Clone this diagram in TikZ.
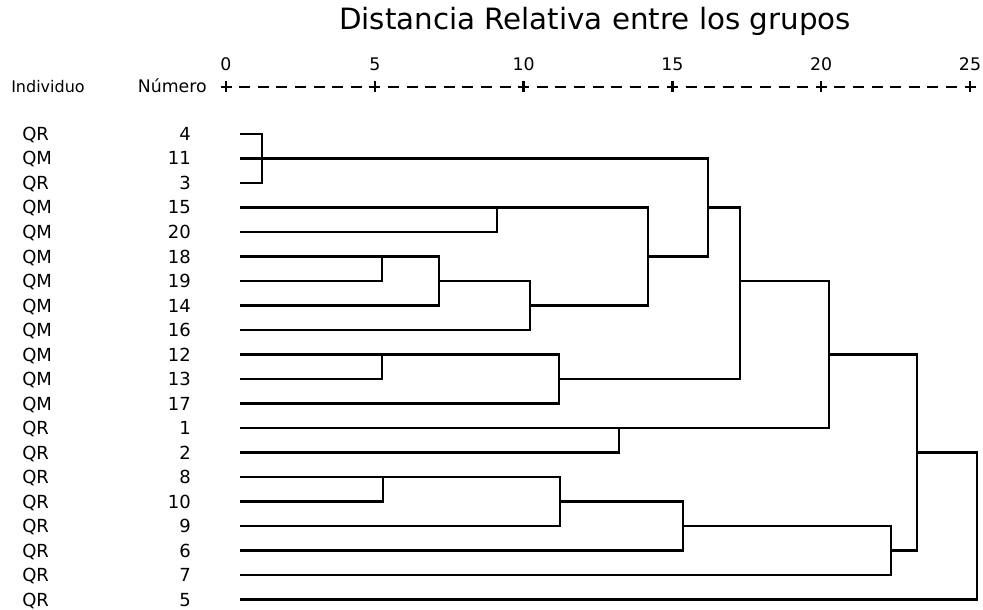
\documentclass[tikz,border=0pt]{standalone}
\usepackage{fontspec}
\setmainfont{DejaVu Sans}
\begin{document}
\begin{tikzpicture}[x=0.75pt,y=-0.75pt,
  lbl/.style={font=\fontsize{13.5}{16}\selectfont, inner sep=0pt},
  hdr/.style={font=\fontsize{12}{14}\selectfont, inner sep=0pt},
  ticklbl/.style={font=\fontsize{13}{15}\selectfont, inner sep=0pt, anchor=base},
  tree/.style={line width=1.8pt, line cap=rect},
  axisline/.style={line width=1.9pt}]
\useasboundingbox (0,0) rectangle (983,610);
% title
\node[font=\fontsize{22}{26}\selectfont, inner sep=0pt, anchor=base] (title) at (595,30) {Distancia Relativa entre los grupos};
% headers
\node[hdr, anchor=base west] (hind) at (11,93) {Individuo};
\node[hdr, font=\fontsize{13}{15}\selectfont, anchor=base east] (hnum) at (207,93) {Número};
% axis
\foreach \k/\t in {0/0,1/5,2/10,3/15,4/20,5/25} {
  \pgfmathsetmacro{\xx}{226+148.8*\k}
  \coordinate (p\k) at (\xx,87);
  \node[ticklbl] (t\k) at (\xx,71) {\t};
  \draw[axisline] ([xshift=-5.5*0.75pt]p\k) -- ([xshift=5.5*0.75pt]p\k);
  \draw[axisline] ([yshift=5.5*0.75pt]p\k) -- ([yshift=-5.5*0.75pt]p\k);
}
\foreach \k in {0,...,4} {
  \foreach \j in {1,...,7} {
    \pgfmathsetmacro{\dx}{226+148.8*\k+18.6*\j}
    \coordinate (da\k\j) at (\dx-5.5,87);
    \coordinate (db\k\j) at (\dx+5.5,87);
    \draw[axisline] (da\k\j) -- (db\k\j);
  }
}
% rows
\foreach \ind/\num [count=\i from 0] in {QR/4,QM/11,QR/3,QM/15,QM/20,QM/18,QM/19,QM/14,QM/16,QM/12,QM/13,QM/17,QR/1,QR/2,QR/8,QR/10,QR/9,QR/6,QR/7,QR/5} {
  \pgfmathsetmacro{\yy}{134+24.5*\i}
  \node[lbl, anchor=base west] (ind\i) at (22,\yy+6.5) {\ind};
  \node[lbl, anchor=base east] (num\i) at (191,\yy+6.5) {\num};
  \coordinate (s\i) at (241,\yy);
}
% merge points
\coordinate (mA) at (262,158.5);
\coordinate (mB) at (497,207.5);
\coordinate (mC) at (382,256.5);
\coordinate (mD) at (439,281);
\coordinate (mE) at (530,305.5);
\coordinate (mF) at (648,256.5);
\coordinate (mG) at (708,207.5);
\coordinate (mH) at (382,354.5);
\coordinate (mI) at (559,379);
\coordinate (mJ) at (740,281);
\coordinate (mK) at (619,428);
\coordinate (mL) at (829,354.5);
\coordinate (mM) at (383,477);
\coordinate (mN) at (560,501.5);
\coordinate (mO) at (683,526);
\coordinate (mP) at (891,550.5);
\coordinate (mQ) at (917,452.5);
\coordinate (mR) at (977,526);
% joins: parent / first child / last child / list of children
\foreach \pp/\first/\last/\kids in {
  mA/s0/s2/{s0,s1,s2},
  mB/s3/s4/{s3,s4},
  mC/s5/s6/{s5,s6},
  mD/mC/s7/{mC,s7},
  mE/mD/s8/{mD,s8},
  mF/mB/mE/{mB,mE},
  mG/mA/mF/{mA,mF},
  mH/s9/s10/{s9,s10},
  mI/mH/s11/{mH,s11},
  mJ/mG/mI/{mG,mI},
  mK/s12/s13/{s12,s13},
  mL/mJ/mK/{mJ,mK},
  mM/s14/s15/{s14,s15},
  mN/mM/s16/{mM,s16},
  mO/mN/s17/{mN,s17},
  mP/mO/s18/{mO,s18},
  mQ/mL/mP/{mL,mP},
  mR/mQ/s19/{mQ,s19}} {
  \draw[tree] (\first -| \pp) -- (\last -| \pp);
  \foreach \c in \kids {
    \draw[tree] (\c) -- (\c -| \pp);
  }
}
\end{tikzpicture}
\end{document}
